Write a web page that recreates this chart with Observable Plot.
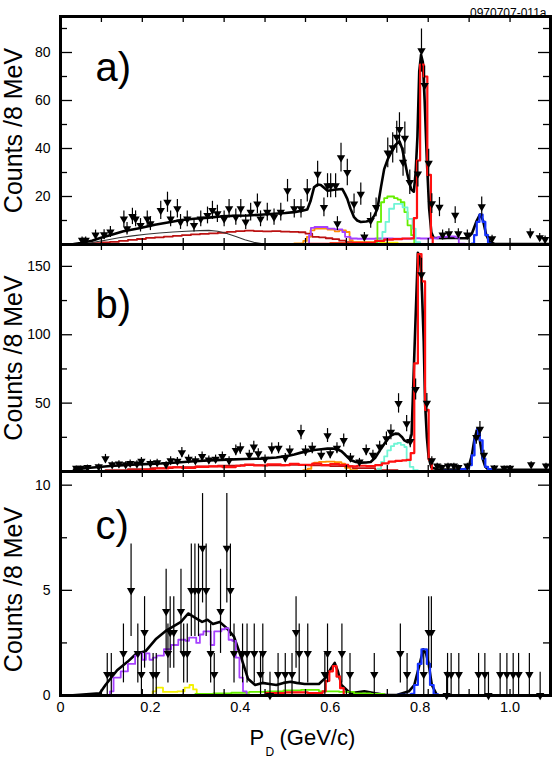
<!DOCTYPE html>
<html>
<head>
<meta charset="utf-8">
<script src="https://cdn.jsdelivr.net/npm/d3@7"></script>
<script src="https://cdn.jsdelivr.net/npm/@observablehq/plot@0.6"></script>
<style>
html,body{margin:0;padding:0;background:#fff;}
#chart{position:relative;width:554px;height:759px;overflow:hidden;background:#fff;}
#chart svg{position:absolute;left:0;}
</style>
</head>
<body>
<div id="chart"></div>
<script>
// ---------- axes / ticks ----------
const xDomain = [0, 1.09];
const xLabelTicks = [0, 0.2, 0.4, 0.6, 0.8, 1.0];
const xTickMarks = [0.091, 0.182, 0.273, 0.364, 0.455, 0.545, 0.636, 0.727, 0.818, 0.909, 1.0];
const yTitle = "Counts /8 MeV";
const xTitleMain = "P";
const xTitleSub = "D";
const xTitleUnit = "(GeV/c)";
const figId = "0970707-011a";

const aYLabels = [20, 40, 60, 80];
const aYMinor = [10, 30, 50, 70, 90];
const bYLabels = [50, 100, 150];
const bYMinor = [25, 75, 125];
const cYLabels = [0, 5, 10];
const cYMinor = [2.5, 7.5];

// ---------- panel a ----------
const aPts = [[0.048,1.8,1.3],[0.056,1.8,1.3],[0.078,4,2],[0.097,4.1,2],[0.111,5.2,2.3],[0.141,10.7,3.3],[0.148,6.6,2.6],[0.16,11.7,3.4],[0.167,10.7,3.3],[0.178,8,2.8],[0.193,10.7,3.3],[0.2,8.7,2.9],[0.223,14.2,3.8],[0.238,17.6,4.2],[0.245,10.7,3.3],[0.26,14.9,3.9],[0.267,9.4,3.1],[0.282,10.7,3.3],[0.297,8,2.8],[0.312,10.7,3.3],[0.327,12.1,3.5],[0.338,14.2,3.8],[0.349,12.8,3.6],[0.364,10.7,3.3],[0.375,14.9,3.9],[0.39,11.4,3.4],[0.401,14.9,3.9],[0.412,9.4,3.1],[0.423,13.5,3.7],[0.438,16.9,4.1],[0.445,10.7,3.3],[0.46,13.5,3.7],[0.475,11.4,3.4],[0.49,13.5,3.7],[0.505,22.4,4.7],[0.52,14.9,3.9],[0.535,14.9,3.9],[0.549,22.4,4.7],[0.572,29.3,5.4],[0.586,15.5,3.9],[0.594,24.5,5],[0.601,24.5,5],[0.612,24.5,5],[0.616,8.7,2.9],[0.624,36.2,6],[0.638,30,5.5],[0.653,16.9,4.1],[0.668,21,4.6],[0.676,3.2,1.8],[0.69,10,3.2],[0.702,15.5,3.9],[0.728,38.2,6.2],[0.739,40.3,6.3],[0.748,44.7,6.7],[0.754,48,6.9],[0.762,34.3,5.9],[0.766,44.3,6.7],[0.777,25.9,5.1],[0.795,29.4,5.4],[0.803,80.8,9],[0.81,66.3,8.1],[0.819,33.9,5.8],[0.826,17,4.1],[0.843,15.6,4],[0.85,4,2],[0.864,4.5,2.1],[0.878,12.2,3.5],[0.885,4.5,2.1],[0.905,4,2],[0.937,15.8,4],[0.96,2.4,1.5],[1.045,4.5,2.1],[1.066,2.9,1.7],[1.078,2.1,1.4]];
const aFit = [[0.03,0.2],[0.045,0.6],[0.07,1.6],[0.09,2.8],[0.11,3.9],[0.14,5.5],[0.178,6.9],[0.21,8.2],[0.245,9.4],[0.27,10.2],[0.297,10.7],[0.33,11.2],[0.356,11.7],[0.39,12.0],[0.416,12.1],[0.445,12.4],[0.475,12.8],[0.5,13.1],[0.52,13.5],[0.54,14.2],[0.549,14.6],[0.556,18],[0.564,23.8],[0.572,25],[0.579,24.8],[0.587,23.5],[0.594,22.4],[0.602,22.6],[0.609,22.8],[0.62,23],[0.627,23.1],[0.633,21],[0.638,19],[0.645,15],[0.653,11.4],[0.66,10],[0.668,9.4],[0.68,9.6],[0.69,10],[0.698,12],[0.705,14.9],[0.713,24],[0.72,31.4],[0.728,35.5],[0.735,38.2],[0.745,41.5],[0.754,43],[0.76,40],[0.765,35.5],[0.772,29],[0.78,23],[0.786,22],[0.79,30],[0.794,45],[0.798,72],[0.802,79],[0.806,76],[0.81,60],[0.815,35],[0.82,15],[0.825,5],[0.83,2.8],[0.85,2.6],[0.87,2.8],[0.89,2.6],[0.905,2.6],[0.915,4.5],[0.925,9.5],[0.933,12.5],[0.94,10],[0.947,4],[0.955,1],[0.965,0.3],[1.0,0.2],[1.09,0.2]];
const aMaroon = [[0.05,0.3],[0.07,0.6],[0.09,0.9],[0.11,1.1],[0.13,1.5],[0.15,1.9],[0.17,2.3],[0.19,2.75],[0.21,3.0],[0.23,3.3],[0.25,3.6],[0.27,3.9],[0.29,4.2],[0.31,4.4],[0.33,4.6],[0.35,4.9],[0.37,5.3],[0.39,5.6],[0.41,5.8],[0.43,5.6],[0.45,5.5],[0.47,5.6],[0.49,5.4],[0.51,5.3],[0.53,5.1],[0.545,4.5],[0.56,3.2],[0.575,3.0],[0.59,2.6],[0.605,2.2],[0.62,1.6],[0.635,1.0],[0.65,0.4],[0.665,0]];
const aThin = [[0.04,0],[0.07,0.8],[0.1,1.8],[0.13,2.8],[0.16,3.6],[0.19,4.3],[0.22,4.8],[0.25,5.2],[0.28,5.5],[0.31,5.8],[0.33,5.9],[0.35,5.5],[0.37,4.6],[0.39,3.3],[0.41,2.0],[0.43,0.9],[0.45,0.3],[0.47,0]];
const aOrange = [[0,0.2],[0.3,0.25],[0.45,0.3],[0.52,0.5],[0.54,1.5],[0.548,3.2],[0.556,5.9],[0.565,6.6],[0.58,6.6],[0.594,6.2],[0.61,5.5],[0.62,5.9],[0.635,5.2],[0.643,1.8],[0.65,0.2],[1.09,0.2]];
const aPurple = [[0.53,0],[0.545,0.3],[0.553,4],[0.557,6.9],[0.565,7.3],[0.58,7.3],[0.594,6.6],[0.61,6.3],[0.627,5.2],[0.633,3.2],[0.645,2.5],[0.66,2.4],[0.7,2.5],[0.74,2.4],[0.78,2.6],[0.8,2.5],[0.82,2.6],[0.84,3.2],[0.86,3.4],[0.878,3.0],[0.886,0.4],[0.9,0]];
const aYellow = [[0.55,0],[0.6,0.5],[0.65,1],[0.7,0.8],[0.75,0.4],[0.8,0]];
const aGreen = [[0.69,0],[0.698,1],[0.705,9.4],[0.713,17.6],[0.72,19.3],[0.727,20],[0.735,20],[0.742,19.3],[0.75,18.7],[0.757,17.6],[0.765,13.5],[0.772,8],[0.78,3.9],[0.787,0.4],[0.795,0]];
const aCyan = [[0.7,0],[0.708,2],[0.716,5.2],[0.723,9.4],[0.731,14.9],[0.742,16.9],[0.753,16.9],[0.761,15.5],[0.772,10.7],[0.783,6.6],[0.79,1],[0.8,0]];
const aRed = [[0.55,0.3],[0.6,0.5],[0.65,0.8],[0.7,1.5],[0.72,2.0],[0.74,2.2],[0.76,2.5],[0.777,2.5],[0.786,11],[0.793,35],[0.8,75],[0.808,70],[0.816,29],[0.824,3],[0.828,0]];
const aBlue = [[0.9,0],[0.915,0.4],[0.92,3.9],[0.926,9.4],[0.932,12.5],[0.939,9.4],[0.945,3.9],[0.951,0.4],[0.958,0]];

// ---------- panel b ----------
const bPts = [[0.035,2.5,1.6],[0.045,2.5,1.6],[0.06,3,1.7],[0.085,3.5,1.9],[0.1,9.4,3.1],[0.115,5,2.2],[0.13,5.5,2.3],[0.145,5,2.2],[0.155,6,2.4],[0.17,5.5,2.3],[0.18,7.5,2.7],[0.2,6,2.4],[0.215,6.5,2.5],[0.235,5,2.2],[0.245,8,2.8],[0.26,7.5,2.7],[0.27,13.8,3.7],[0.285,9,3],[0.3,8,2.8],[0.315,11,3.3],[0.33,8.5,2.9],[0.345,9,3],[0.36,11,3.3],[0.375,8,2.8],[0.39,15.5,3.9],[0.4,16.7,4.1],[0.42,12,3.5],[0.43,17.9,4.2],[0.44,13,3.6],[0.455,9,3],[0.47,16.7,4.1],[0.485,17,4.1],[0.5,10,3.2],[0.51,15,3.9],[0.535,28.5,5.3],[0.545,15,3.9],[0.56,17,4.1],[0.58,12,3.5],[0.594,26.3,5.1],[0.6,13,3.6],[0.615,17,4.1],[0.63,22.7,4.8],[0.645,10,3.2],[0.665,7,2.6],[0.68,15.5,3.9],[0.695,12,3.5],[0.71,18,4.2],[0.725,24,4.9],[0.735,28.7,5.4],[0.752,49.8,7.1],[0.77,35,5.9],[0.778,22,4.7],[0.79,60,7.7],[0.803,144,12],[0.815,50,7.1],[0.826,8,2.8],[0.838,4,2],[0.848,3,1.7],[0.862,4,2],[0.875,4,2],[0.885,3,1.7],[0.905,4,2],[0.925,25,5],[0.933,31,5.6],[0.942,12,3.5],[0.965,2.7,1.6],[0.987,2.5,1.6],[1.0,2.5,1.6],[1.047,5,2.2],[1.08,4,2]];
const bFit = [[0.03,1.5],[0.06,2.5],[0.111,4],[0.16,5],[0.223,5.8],[0.26,6.6],[0.297,7.5],[0.33,8.1],[0.371,8.7],[0.41,9.1],[0.445,9.4],[0.48,10.2],[0.505,11.4],[0.52,12.5],[0.535,13.8],[0.55,14.8],[0.564,15.7],[0.58,16.3],[0.594,16.7],[0.605,16.8],[0.616,16.2],[0.625,14.8],[0.631,13],[0.64,10],[0.646,8.2],[0.657,7],[0.668,6.5],[0.68,6.6],[0.69,7],[0.7,10],[0.713,16.7],[0.725,22.5],[0.735,26.3],[0.745,27.7],[0.752,27.5],[0.76,25],[0.765,22.7],[0.772,21.5],[0.777,23],[0.781,27],[0.787,85],[0.795,160],[0.799,157],[0.803,142],[0.808,95],[0.811,50],[0.815,25],[0.819,10],[0.825,3],[0.84,1.5],[0.88,1.5],[0.9,1.7],[0.909,4.6],[0.915,11.8],[0.921,24],[0.927,31],[0.933,22.7],[0.939,9.4],[0.945,3.4],[0.951,1.7],[0.958,1.2],[1.0,1.2],[1.09,1.2]];
const bMaroon = [[0.05,0.3],[0.1,1],[0.15,1.8],[0.2,2.5],[0.25,3.2],[0.3,3.8],[0.35,4.2],[0.4,4.6],[0.45,4.5],[0.5,4.8],[0.55,4.5],[0.6,4],[0.65,2.5],[0.7,1],[0.75,0.3],[0.8,0]];
const bOrange = [[0,0.4],[0.5,0.4],[0.54,1],[0.55,2],[0.558,5],[0.564,6.5],[0.575,7],[0.59,7.2],[0.61,6.8],[0.625,5.8],[0.633,2.7],[0.645,1],[0.66,0.4],[1.09,0.4]];
const bCyan = [[0.69,0.5],[0.705,2],[0.713,7],[0.72,11],[0.727,15.5],[0.735,18.5],[0.742,20.3],[0.75,21],[0.757,19.5],[0.765,17.9],[0.77,8.2],[0.777,3.4],[0.785,1],[0.795,0]];
const bRed = [[0.15,0.5],[0.18,1.2],[0.21,2.2],[0.24,3],[0.27,2.6],[0.3,3.4],[0.33,3.8],[0.36,3.2],[0.39,4.2],[0.41,5],[0.43,4.4],[0.46,5.2],[0.49,4.6],[0.51,5.6],[0.53,4.8],[0.56,5.8],[0.58,4.6],[0.6,5.4],[0.62,4.8],[0.64,3.8],[0.66,4.2],[0.68,4],[0.7,4.6],[0.715,6],[0.73,7.2],[0.745,7.8],[0.76,8.2],[0.77,8.5],[0.779,13.5],[0.787,79],[0.795,159],[0.803,139],[0.811,45],[0.819,8.7],[0.826,0]];
const bBlue = [[0.85,0.5],[0.89,1.7],[0.902,2.5],[0.909,4.6],[0.915,11.8],[0.921,24],[0.927,31],[0.933,22.7],[0.939,9.4],[0.945,3.4],[0.951,1.7],[0.958,0.5],[0.97,0]];

// ---------- panel c ----------
const cPts = [[0.104,1,1],[0.113,1,1],[0.14,2,1.4],[0.157,5,2.2],[0.172,2,1.4],[0.18,1,1],[0.187,3,1.7],[0.206,1,1],[0.213,1,1],[0.235,4,2],[0.239,2,1.4],[0.244,3,1.7],[0.252,3,1.7],[0.268,4,2],[0.274,2,1.4],[0.282,2,1.4],[0.291,5,2.2],[0.299,5,2.2],[0.307,5,2.2],[0.316,7,2.6],[0.324,5,2.2],[0.334,2,1.4],[0.342,1,1],[0.356,4,2],[0.37,7,2.6],[0.378,5,2.2],[0.386,2,1.4],[0.405,2,1.4],[0.415,2,1.4],[0.431,2,1.4],[0.445,1,1],[0.45,2,1.4],[0.466,0,1.1],[0.484,1,1],[0.5,1,1],[0.515,1,1],[0.524,3,1.7],[0.531,2,1.4],[0.55,2,1.4],[0.588,1,1],[0.594,2,1.4],[0.626,2,1.4],[0.644,1,1],[0.698,1,1],[0.756,2,1.4],[0.771,1,1],[0.808,1,1],[0.819,3,1.7],[0.825,3,1.7],[0.859,0,1.1],[0.861,1,1],[0.869,1,1],[0.886,1,1],[0.93,1,1],[0.944,1,1],[0.952,0,1.1],[0.978,1,1],[0.993,1,1],[1.007,1,1],[1.019,1,1],[1.043,1,1],[1.067,0,1.1]];
const cFit = [[0.02,0],[0.05,0.05],[0.087,0.1],[0.1,0.5],[0.126,1.2],[0.149,1.6],[0.169,2],[0.189,2.1],[0.213,2.7],[0.236,3.1],[0.252,3.3],[0.268,3.5],[0.284,3.9],[0.299,3.7],[0.315,3.5],[0.327,3.6],[0.339,3.4],[0.354,3.5],[0.37,3.2],[0.386,2.8],[0.402,1.8],[0.417,0.8],[0.433,0.5],[0.449,0.6],[0.465,0.55],[0.48,0.5],[0.496,0.6],[0.512,0.65],[0.525,0.6],[0.543,0.55],[0.575,0.55],[0.59,0.85],[0.602,1.3],[0.61,1.55],[0.617,1.15],[0.625,0.5],[0.645,0.1],[0.676,0.2],[0.7,0.1],[0.724,0.02],[0.748,0.02],[0.775,0.2],[0.787,0.5],[0.799,1.5],[0.807,2.2],[0.813,2.0],[0.819,1.5],[0.826,0.5],[0.838,0],[1.09,0]];
const cPurple = [[0.105,0],[0.11,0.2],[0.118,0.85],[0.126,0.85],[0.134,1.15],[0.142,1.15],[0.15,1.5],[0.158,1.5],[0.166,1.9],[0.174,2.0],[0.182,1.7],[0.19,2.0],[0.198,1.7],[0.206,1.8],[0.214,1.9],[0.222,1.9],[0.23,2.2],[0.238,2.2],[0.246,2.4],[0.254,2.4],[0.262,2.65],[0.27,2.65],[0.278,2.6],[0.286,2.75],[0.294,2.75],[0.302,2.5],[0.31,2.9],[0.318,3.05],[0.326,3.05],[0.334,2.4],[0.342,3.05],[0.35,3.05],[0.358,3.15],[0.366,3.2],[0.374,2.65],[0.382,2.6],[0.39,1.8],[0.398,0.85],[0.406,0.2],[0.414,0]];
const cYellow = [[0.197,0],[0.205,0.2],[0.213,0.37],[0.228,0.17],[0.244,0.17],[0.26,0.2],[0.276,0.37],[0.287,0.5],[0.295,0.29],[0.303,0.05],[0.31,0]];
const cGreen = [[0.29,0],[0.3,0.08],[0.34,0.1],[0.38,0.13],[0.42,0.17],[0.46,0.2],[0.496,0.24],[0.535,0.27],[0.575,0.2],[0.62,0.17],[0.653,0.1],[0.69,0.08],[0.72,0.02],[0.73,0]];
const cRed = [[0.44,0],[0.457,0.12],[0.5,0.15],[0.55,0.12],[0.583,0.2],[0.59,0.7],[0.598,1.15],[0.606,1.4],[0.614,0.9],[0.622,0.35],[0.63,0]];
const cBlue = [[0.74,0],[0.75,0.03],[0.78,0.08],[0.787,0.5],[0.795,1.5],[0.803,2.2],[0.811,2.2],[0.815,1.5],[0.822,0.5],[0.83,0.05],[0.84,0]];

// ---------- colours ----------
const COL = {
  red: "#ff1010", maroon: "#bb1111", thin: "#333333", orange: "#ff9000",
  purple: "#a640ff", yellow: "#f4f000", green: "#66ee00", cyan: "#70f5d5", blue: "#1633ff"
};
const FONT = '"Liberation Sans", Arial, Helvetica, sans-serif';

// down-pointing triangle symbol
const triDown = {
  draw(context, size) {
    const s = Math.sqrt(size * 4 / Math.sqrt(3));
    const h = s * Math.sqrt(3) / 2;
    context.moveTo(-s / 2, -h / 3);
    context.lineTo(s / 2, -h / 3);
    context.lineTo(0, 2 * h / 3);
    context.closePath();
  }
};

function makePanel(o) {
  const W = 554, ML = 60, MR = 4;
  const plotW = W - ML - MR;
  const plotH = o.height - o.mt - o.mb;
  const X = d => d[0], Y = d => d[1];
  const marks = [];
  marks.push(Plot.line(o.fit, {x: X, y: Y, stroke: "black", strokeWidth: 2.6, strokeLinejoin: "round", clip: true}));
  for (const c of o.comps) {
    marks.push(Plot.line(c.data, {x: X, y: Y, curve: c.curve || "step-after", stroke: c.color, strokeWidth: c.width || 1.8, clip: true}));
  }
  marks.push(Plot.ruleX(o.pts, {x: X, y1: d => Math.max(0, d[1] - d[2]), y2: d => d[1] + d[2], stroke: "black", strokeWidth: 1.2, clip: true}));
  marks.push(Plot.dot(o.pts, {x: X, y: Y, symbol: triDown, r: 3.1, fill: "black", stroke: "none"}));
  // inward ticks
  marks.push(Plot.tickY(o.yLabels, {y: d => d, insetRight: plotW - 12, stroke: "black", strokeWidth: 1.3}));
  marks.push(Plot.tickY(o.yLabels, {y: d => d, insetLeft: plotW - 12, stroke: "black", strokeWidth: 1.3}));
  marks.push(Plot.tickY(o.yMinor, {y: d => d, insetRight: plotW - 7, stroke: "black", strokeWidth: 1.3}));
  marks.push(Plot.tickY(o.yMinor, {y: d => d, insetLeft: plotW - 7, stroke: "black", strokeWidth: 1.3}));
  marks.push(Plot.tickX(xTickMarks, {x: d => d, insetBottom: plotH - 6, stroke: "black", strokeWidth: 1.3}));
  marks.push(Plot.tickX(xTickMarks, {x: d => d, insetTop: plotH - 6, stroke: "black", strokeWidth: 1.3}));
  // y tick labels
  marks.push(Plot.text(o.yLabels, {y: d => d, frameAnchor: "left", dx: -10, textAnchor: "end", fontSize: 14, text: d => String(d), fill: "black"}));
  marks.push(Plot.frame({stroke: "black", strokeWidth: 3}));
  // panel label
  marks.push(Plot.text([o.label], {frameAnchor: "top-left", dx: 35, dy: o.labelDy, textAnchor: "start", fontSize: 40, text: d => d, fill: "black"}));
  // y title
  marks.push(Plot.text([yTitle], {frameAnchor: "left", dx: -47, dy: o.titleDy || 0, rotate: -90, textAnchor: "middle", lineAnchor: "middle", fontSize: 25, text: d => d, fill: "black"}));
  if (o.extra) marks.push(...o.extra);
  const svg = Plot.plot({
    width: W, height: o.height,
    marginLeft: ML, marginRight: MR, marginTop: o.mt, marginBottom: o.mb,
    x: {domain: xDomain, axis: null},
    y: {domain: [0, o.yMax], axis: null},
    style: {background: "transparent", fontFamily: FONT, color: "black"},
    marks
  });
  svg.style.top = o.top + "px";
  return svg;
}

const chart = document.getElementById("chart");

chart.appendChild(makePanel({
  top: 0, height: 246, mt: 16, mb: 2, yMax: 95,
  yLabels: aYLabels, yMinor: aYMinor, label: "a)", labelDy: 36,
  pts: aPts, fit: aFit,
  comps: [
    {data: aOrange, color: COL.orange},
    {data: aMaroon, color: COL.maroon},
    {data: aThin, color: COL.thin, width: 1.1, curve: "linear"},
    {data: aYellow, color: COL.yellow},
    {data: aPurple, color: COL.purple},
    {data: aGreen, color: COL.green},
    {data: aCyan, color: COL.cyan},
    {data: aRed, color: COL.red, width: 2.2},
    {data: aBlue, color: COL.blue, width: 2.2}
  ],
  extra: [Plot.text([figId], {frameAnchor: "top-right", dx: -4, dy: -8, textAnchor: "end", fontSize: 12, text: d => d, fill: "black"})]
}));

chart.appendChild(makePanel({
  top: 242, height: 231, mt: 2, mb: 2, yMax: 166,
  yLabels: bYLabels, yMinor: bYMinor, label: "b)", labelDy: 45,
  pts: bPts, fit: bFit,
  comps: [
    {data: bOrange, color: COL.orange},
    {data: bMaroon, color: COL.maroon},
    {data: bCyan, color: COL.cyan},
    {data: bRed, color: COL.red, width: 2.2},
    {data: bBlue, color: COL.blue, width: 2.2}
  ]
}));

chart.appendChild(makePanel({
  top: 469, height: 290, mt: 2, mb: 64, yMax: 10.65,
  yLabels: cYLabels, yMinor: cYMinor, label: "c)", labelDy: 39, titleDy: 6,
  pts: cPts, fit: cFit,
  comps: [
    {data: cYellow, color: COL.yellow},
    {data: cGreen, color: COL.green},
    {data: cPurple, color: COL.purple},
    {data: cRed, color: COL.red, width: 2.2},
    {data: cBlue, color: COL.blue, width: 2.2}
  ],
  extra: [
    Plot.text(xLabelTicks, {x: d => d, frameAnchor: "bottom", dy: 16, fontSize: 14.5, text: d => d === 0 ? "0" : d.toFixed(1), fill: "black"}),
    Plot.text([xTitleMain], {frameAnchor: "bottom", dx: -56, dy: 49, textAnchor: "start", fontSize: 22, text: d => d, fill: "black"}),
    Plot.text([xTitleSub], {frameAnchor: "bottom", dx: -40, dy: 60, textAnchor: "start", fontSize: 12, text: d => d, fill: "black"}),
    Plot.text([xTitleUnit], {frameAnchor: "bottom", dx: -26, dy: 49, textAnchor: "start", fontSize: 22, text: d => d, fill: "black"})
  ]
}));
</script>
</body>
</html>
